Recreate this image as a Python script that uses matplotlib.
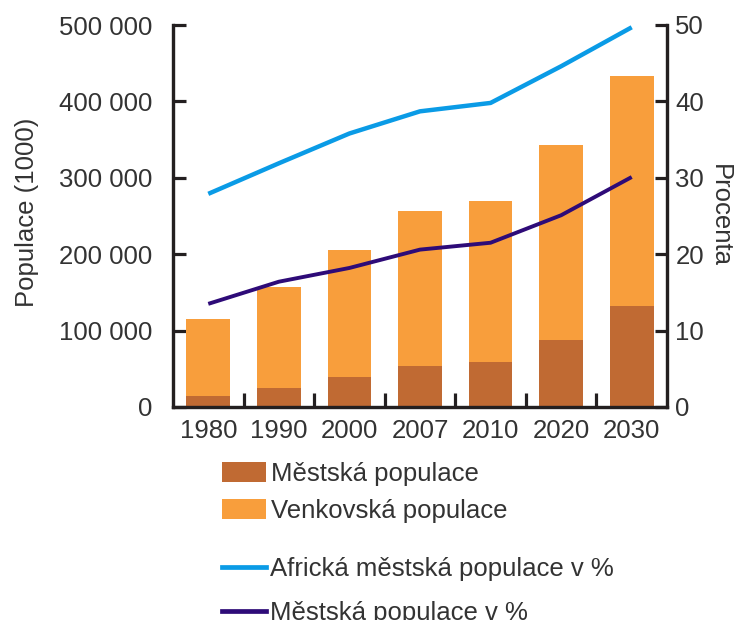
import matplotlib
matplotlib.use("Agg")
import matplotlib.pyplot as plt
from matplotlib.patches import Patch
from matplotlib.lines import Line2D
import numpy as np

plt.rcParams['font.family'] = ['Liberation Sans', 'DejaVu Sans']

years = ["1980", "1990", "2000", "2007", "2010", "2020", "2030"]
urban_pop = [14800, 25300, 39700, 53300, 58500, 87300, 132200]
total_pop = [114700, 156700, 205100, 256500, 269200, 342500, 433200]
rural_pop = [t - u for t, u in zip(total_pop, urban_pop)]
africa_urban_pct = [27.9, 31.9, 35.8, 38.7, 39.8, 44.6, 49.7]
urban_pct = [13.5, 16.4, 18.2, 20.6, 21.5, 25.1, 30.1]

c_urban = "#C06A33"
c_rural = "#F89E3C"
c_blue = "#0A9BE6"
c_purple = "#2E0B78"
c_spine = "#231F20"
c_text = "#333333"
fs = 18.5

fig = plt.figure(figsize=(7.34, 6.2), dpi=100)
ax = fig.add_axes([173/734, 1-407/620, (667-173)/734, (407-25)/620])
ax2 = ax.twinx()

x = np.arange(len(years))
w = 0.62
ax.bar(x, urban_pop, w, color=c_urban, zorder=2)
ax.bar(x, rural_pop, w, bottom=urban_pop, color=c_rural, zorder=2)

ax2.plot(x, africa_urban_pct, color=c_blue, lw=3.2, solid_capstyle='butt')
ax2.plot(x, urban_pct, color=c_purple, lw=2.8, solid_capstyle='butt')

ax.set_xlim(-0.5, len(years) - 0.5)
ax.set_ylim(0, 500000)
ax2.set_ylim(0, 50)

yt = list(range(0, 500001, 100000))
ax.set_yticks(yt)
ax.set_yticklabels([f"{v:,}".replace(",", " ") for v in yt])
ax2.set_yticks(range(0, 51, 10))

ax.set_xticks(x)
ax.set_xticklabels(years)
ax.set_xticks(np.arange(0.5, len(years) - 1, 1), minor=True)

for a in (ax, ax2):
    a.spines['top'].set_visible(False)
    for s in ('left', 'right', 'bottom'):
        a.spines[s].set_linewidth(2.3)
        a.spines[s].set_color(c_spine)

ax.tick_params(axis='x', which='major', length=0, labelsize=fs, labelcolor=c_text, pad=9)
ax.tick_params(axis='x', which='minor', direction='in', length=10, width=2.3, color=c_spine)
ax.tick_params(axis='y', direction='in', length=9, width=2.3, color=c_spine,
               labelsize=fs, labelcolor=c_text, pad=15)
ax2.tick_params(axis='y', direction='in', length=9, width=2.3, color=c_spine,
                labelsize=fs, labelcolor=c_text, pad=6)

ax.set_ylabel("Populace (1000)", fontsize=fs, color=c_text)
ax.yaxis.set_label_coords(-0.272, 0.51)
ax2.set_ylabel("Procenta", fontsize=fs, color=c_text, rotation=270, labelpad=20)

h1 = [Patch(facecolor=c_urban, edgecolor='none'), Patch(facecolor=c_rural, edgecolor='none')]
l1 = ["Městská populace", "Venkovská populace"]
leg1 = fig.legend(h1, l1, loc='upper left', bbox_to_anchor=(222/734, 1-462/620),
                  frameon=False, fontsize=fs, handlelength=1.71, handleheight=0.85,
                  handletextpad=0.2, labelspacing=0.5, labelcolor=c_text, borderaxespad=0,
                  borderpad=0)
h2 = [Line2D([0], [0], color=c_blue, lw=3.4), Line2D([0], [0], color=c_purple, lw=3.4)]
l2 = ["Africká městská populace v %", "Městská populace v %"]
leg2 = fig.legend(h2, l2, loc='upper left', bbox_to_anchor=(222/734, 1-557/620),
                  frameon=False, fontsize=fs, handlelength=1.71,
                  handletextpad=0.15, labelspacing=0.77, labelcolor=c_text, borderaxespad=0,
                  borderpad=0)

fig.savefig("out.png", dpi=100)
